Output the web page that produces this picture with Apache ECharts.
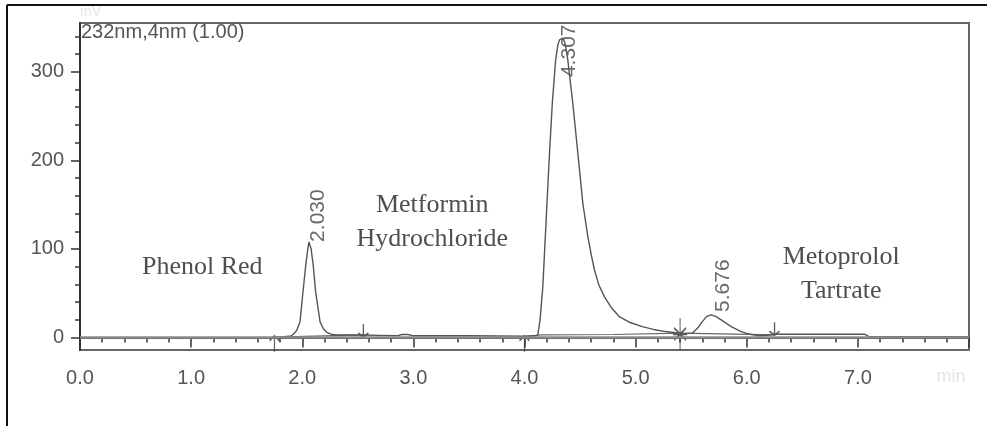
<!DOCTYPE html>
<html>
<head>
  <meta charset="utf-8">
  <title>chromatogram</title>
  <script src="https://cdn.jsdelivr.net/npm/echarts@6/dist/echarts.min.js"></script>
  <style>
    html, body { margin: 0; padding: 0; background: #fff; }
    #main { width: 987px; height: 426px; }
  </style>
</head>
<body>
  <div id="main"></div>
  <script type="text/javascript">

    // retention time (min) and detector signal (mV)
    var traceT = [0, 1.75, 1.76, 1.90, 1.92, 1.95, 1.98, 2.007, 2.03, 2.05, 2.06, 2.07, 2.08, 2.10, 2.12, 2.16, 2.19, 2.22, 2.26, 2.30,
      2.55, 2.70, 2.85, 2.90, 2.95, 3.00, 3.50, 4.00, 4.10, 4.12, 4.14, 4.165, 4.195, 4.225, 4.25, 4.28, 4.30, 4.315,
      4.33, 4.345, 4.36, 4.375, 4.39, 4.435, 4.48, 4.525, 4.57, 4.60, 4.63, 4.67, 4.72, 4.78, 4.85, 4.95, 5.06, 5.16, 5.27, 5.39, 5.45, 5.51, 5.56, 5.60, 5.64, 5.68,
      5.72, 5.77, 5.86, 5.95, 6.02, 6.11, 6.20, 6.25, 7.06, 7.10, 8.0];
    var traceV = [0, 0, 1, 2, 3.8, 8, 18, 52, 80, 100, 108, 106, 100, 80, 52, 18, 10, 6, 3.8, 3,
      3, 2.5, 2, 3.5, 3.5, 2, 2, 1.5, 2, 3, 20, 57.5, 133, 208, 264, 313, 330, 336,
      338, 338, 334, 325, 313, 264, 208, 151.5, 114, 94, 76, 59, 46, 34, 24, 17, 12.4, 9.2, 6.8, 5, 4.5, 5, 11, 18, 24, 25.6,
      24, 20, 12.4, 6.8, 4, 2, 3, 3.8, 3.8, 1, 1];

    // integration baselines (null = gap)
    var baseT = [1.75, 2.55, null, 4.0, 4.15, 4.8, 5.4, 6.25];
    var baseV = [0.5, 3, null, 1, 3, 3.5, 5, 3];

    // retention time labels and where their text starts
    var peakNames = ['2.030', '4.307', '5.676'];
    var peakLabelX = [2.14, 4.40, 5.79];
    var peakLabelY = [108, 294, 29];

    // integration start / end marks
    var eventT = [1.75, 2.55, 4.0, 5.4, 6.25];
    var eventV = [-7, 8, -7, 4, 10];
    var eventKind = ['up', 'down', 'up', 'star', 'down'];

    // compound names
    var noteText = ['Phenol Red', 'Metformin\nHydrochloride', 'Metoprolol\nTartrate'];
    var noteX = [1.10, 3.17, 6.85];
    var noteY = [80, 130, 72];

    var yMajor = [0, 100, 200, 300];
    var yMinor = [20, 40, 60, 80, 120, 140, 160, 180, 220, 240, 260, 280, 320, 340];

    var symbols = {
      up: 'path://M5,0 L5,16 M1,5 L5,0 L9,5',
      down: 'path://M5,0 L5,16 M1,11 L5,16 L9,11',
      star: 'path://M8,0 L8,32 M2,10 L14,22 M14,10 L2,22 M1,16 L15,16'
    };
    var symbolSizes = { up: [10, 16], down: [10, 13], star: [14, 32] };

    var trace = traceT.map(function (t, i) { return [t, traceV[i]]; });
    var base = baseT.map(function (t, i) { return t === null ? ['-', '-'] : [t, baseV[i]]; });
    var peaks = peakNames.map(function (n, i) { return { name: n, value: [peakLabelX[i], peakLabelY[i]] }; });
    var events = eventT.map(function (t, i) {
      return { value: [t, eventV[i]], symbol: symbols[eventKind[i]], symbolSize: symbolSizes[eventKind[i]] };
    });
    var notes = noteText.map(function (n, i) { return { name: n, value: [noteX[i], noteY[i]] }; });

    var myChart = echarts.init(document.getElementById('main'));

    var axisFont = { fontFamily: 'Liberation Sans', fontSize: 20, color: '#555' };

    var option = {
      animation: false,
      backgroundColor: '#fff',
      title: {
        text: '232nm,4nm (1.00)',
        left: 81,
        top: 22,
        padding: 0,
        textStyle: { fontFamily: 'Liberation Sans', fontSize: 20, fontWeight: 'normal', color: '#555' }
      },
      grid: {
        left: 80, right: 18, top: 23, bottom: 76,
        outerBoundsMode: 'none',
        show: true,
        borderColor: '#666',
        borderWidth: 2
      },
      xAxis: {
        type: 'value',
        min: 0,
        max: 8,
        interval: 1,
        axisLine: { lineStyle: { color: '#333', width: 2 } },
        axisTick: { length: 10, lineStyle: { color: '#333', width: 1.5 } },
        minorTick: { show: true, splitNumber: 5, length: 5, lineStyle: { color: '#333', width: 1.5 } },
        splitLine: { show: false },
        axisLabel: {
          margin: 18,
          fontFamily: 'Liberation Sans', fontSize: 20, color: '#555',
          formatter: function (v) { return v === 8 ? '{u|min}' : v.toFixed(1); },
          rich: { u: { fontFamily: 'Liberation Sans', fontSize: 18, color: '#e4e4e4', padding: [0, 36, 0, 0] } }
        }
      },
      yAxis: [{
        type: 'value',
        min: -14,
        max: 355,
        name: 'mV',
        nameGap: 4,
        nameTextStyle: { fontFamily: 'Liberation Sans', fontSize: 14, color: '#e4e4e4', align: 'left' },
        axisLine: { show: true, lineStyle: { color: '#333', width: 2 } },
        axisTick: { show: true, length: 9, customValues: yMajor, lineStyle: { color: '#333', width: 1.5 } },
        axisLabel: Object.assign({ margin: 16, customValues: yMajor }, axisFont),
        splitLine: { show: false }
      }, {
        type: 'value',
        min: -14,
        max: 355,
        position: 'left',
        axisLine: { show: false },
        axisTick: { show: true, length: 5, customValues: yMinor, lineStyle: { color: '#333', width: 1.5 } },
        axisLabel: { show: false },
        splitLine: { show: false }
      }],
      series: [{
        type: 'line',
        data: base,
        showSymbol: false,
        silent: true,
        lineStyle: { color: '#666', width: 1.2 },
        markLine: {
          silent: true,
          symbol: 'none',
          label: { show: false },
          lineStyle: { color: '#8a8a8a', width: 2.5, type: 'solid' },
          data: [{ yAxis: 0 }]
        }
      }, {
        type: 'line',
        data: trace,
        showSymbol: false,
        silent: true,
        smooth: false,
        lineStyle: { color: '#555', width: 1.4 }
      }, {
        type: 'scatter',
        data: events,
        silent: true,
        itemStyle: { color: 'none', borderColor: '#333', borderWidth: 1.5 }
      }, {
        type: 'scatter',
        data: peaks,
        symbolSize: 0,
        silent: true,
        label: {
          show: true,
          position: 'inside',
          rotate: 90,
          align: 'left',
          verticalAlign: 'middle',
          formatter: function (p) { return p.name; },
          fontFamily: 'Liberation Sans', fontSize: 21, color: '#444'
        }
      }, {
        type: 'scatter',
        data: notes,
        symbolSize: 0,
        silent: true,
        label: {
          show: true,
          position: 'inside',
          align: 'center',
          verticalAlign: 'middle',
          lineHeight: 34,
          formatter: function (p) { return p.name; },
          fontFamily: 'Liberation Serif', fontSize: 26, color: '#222'
        }
      }],
      graphic: [{
        type: 'line',
        shape: { x1: 7, y1: 5, x2: 7, y2: 426 },
        style: { stroke: '#111', lineWidth: 2 }
      }, {
        type: 'line',
        shape: { x1: 7, y1: 5, x2: 987, y2: 5 },
        style: { stroke: '#111', lineWidth: 2 }
      }]
    };

    myChart.setOption(option);
  </script>
</body>
</html>
